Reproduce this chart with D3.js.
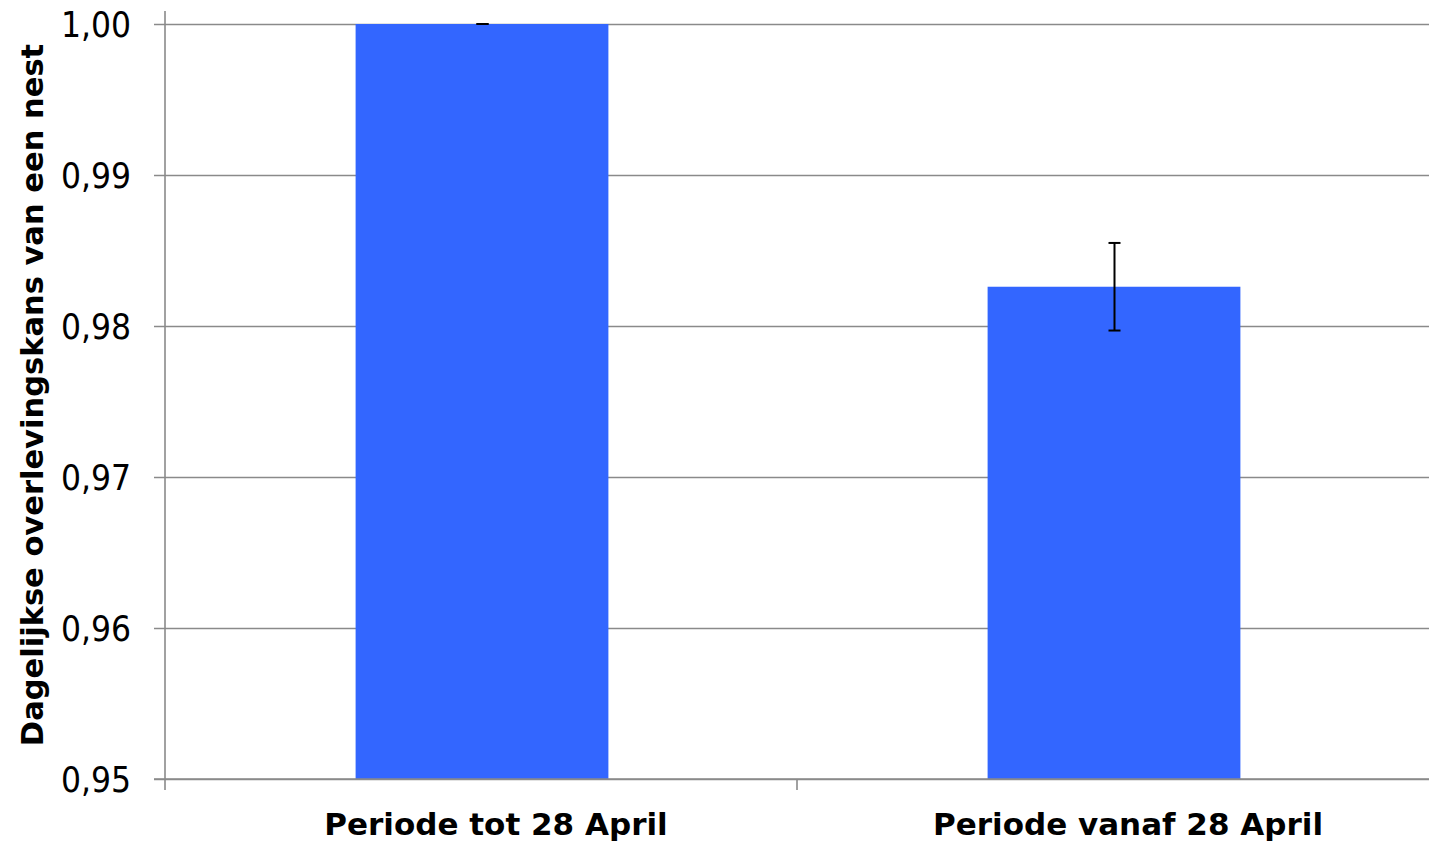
<!DOCTYPE html>
<html>
<head>
<meta charset="utf-8">
<script src="https://cdn.jsdelivr.net/npm/d3@7"></script>
<style>
  body { margin: 0; background: #fff; }
  svg text { fill: #000; }
</style>
</head>
<body>
<div class="chart"></div>
<script>
// data
const categories = ['Periode tot 28 April', 'Periode vanaf 28 April'];
const survival = [1.0, 0.9826];
const errorMargin = [0.0, 0.0029];
const yTicks = [0.95, 0.96, 0.97, 0.98, 0.99, 1.00];
const yLabel = 'Dagelijkse overlevingskans van een nest';

const svg_width = 1429;
const svg_height = 848;
const margin = { top: 24, right: 0, bottom: 69, left: 165 };
const width = svg_width - margin.left - margin.right;
const height = svg_height - margin.top - margin.bottom;

const nl = d3.formatLocale({ decimal: ',', thousands: '.', grouping: [3], currency: ['€', ''] });
const fmt = nl.format('.2f');

const svg = d3.select('.chart').append('svg')
    .attr('width', svg_width).attr('height', svg_height);
const g = svg.append('g')
    .attr('transform', `translate(${margin.left},${margin.top})`);

// scales
const xScale = d3.scaleBand().domain(categories).range([0, width])
    .paddingInner(0.6).paddingOuter(0.3);
const yScale = d3.scaleLinear([0.95, 1.0], [height, 0]);

// gridlines + y axis
const yAxis = d3.axisLeft(yScale).tickValues(yTicks).tickFormat(fmt)
    .tickSizeInner(-width).tickSizeOuter(0).tickPadding(0);
const yAxisDraw = g.append('g').attr('class', 'y axis').call(yAxis);
yAxisDraw.select('.domain').remove();
yAxisDraw.selectAll('.tick line')
    .attr('x1', -11).attr('x2', width)
    .attr('stroke', '#8a8a8a').attr('stroke-width', 1.6);
yAxisDraw.selectAll('.tick text')
    .attr('x', -34)
    .attr('dy', '0.36em')
    .style('font-family', '"DejaVu Sans Condensed", "DejaVu Sans", sans-serif')
    .style('font-size', '35px');

// bars
g.append('g').attr('class', 'bars').attr('transform', 'translate(1,0)')
    .selectAll('rect')
    .data(categories).join('rect')
    .attr('x', d => xScale(d))
    .attr('y', (d, i) => yScale(survival[i]))
    .attr('width', xScale.bandwidth())
    .attr('height', (d, i) => height - yScale(survival[i]))
    .attr('fill', '#3366ff');

// error bars
const err = g.append('g').attr('class', 'errors')
    .selectAll('g').data(categories).join('g')
    .attr('transform', d => `translate(${xScale(d) + xScale.bandwidth() / 2 + 1.5},0)`);
err.append('line')
    .attr('y1', (d, i) => yScale(Math.min(1, survival[i] + errorMargin[i])))
    .attr('y2', (d, i) => yScale(survival[i] - errorMargin[i]))
    .attr('stroke', '#000').attr('stroke-width', 2);
err.selectAll('.cap')
    .data((d, i) => [Math.min(1, survival[i] + errorMargin[i]), survival[i] - errorMargin[i]])
    .join('line').attr('class', 'cap')
    .attr('x1', -6).attr('x2', 6)
    .attr('y1', v => yScale(v)).attr('y2', v => yScale(v))
    .attr('stroke', '#000').attr('stroke-width', 2);

// axis lines
g.append('line')
    .attr('x1', 0).attr('x2', 0).attr('y1', -13).attr('y2', height + 11)
    .attr('stroke', '#8a8a8a').attr('stroke-width', 1.6);
g.append('line')
    .attr('x1', -11).attr('x2', width).attr('y1', height).attr('y2', height)
    .attr('stroke', '#8a8a8a').attr('stroke-width', 1.6);

// x axis
const xAxis = d3.axisBottom(xScale).tickSize(0).tickPadding(34);
const xAxisDraw = g.append('g').attr('class', 'x axis')
    .attr('transform', `translate(0,${height})`).call(xAxis);
xAxisDraw.select('.domain').remove();
xAxisDraw.selectAll('.tick text')
    .attr('x', 15)
    .style('font-family', '"DejaVu Sans", sans-serif')
    .style('font-weight', 'bold')
    .style('font-size', '31px');
// category separator between the two bands
g.append('line')
    .attr('x1', xScale.step() * 1.0 + (width - xScale.step() * 2) / 2)
    .attr('x2', xScale.step() * 1.0 + (width - xScale.step() * 2) / 2)
    .attr('y1', height).attr('y2', height + 11)
    .attr('stroke', '#8a8a8a').attr('stroke-width', 1.6);

// y label
svg.append('text')
    .attr('transform', `translate(43,395) rotate(-90)`)
    .attr('text-anchor', 'middle')
    .style('font-family', '"DejaVu Sans", sans-serif')
    .style('font-weight', 'bold')
    .style('font-size', '30.5px')
    .text(yLabel);
</script>
</body>
</html>
